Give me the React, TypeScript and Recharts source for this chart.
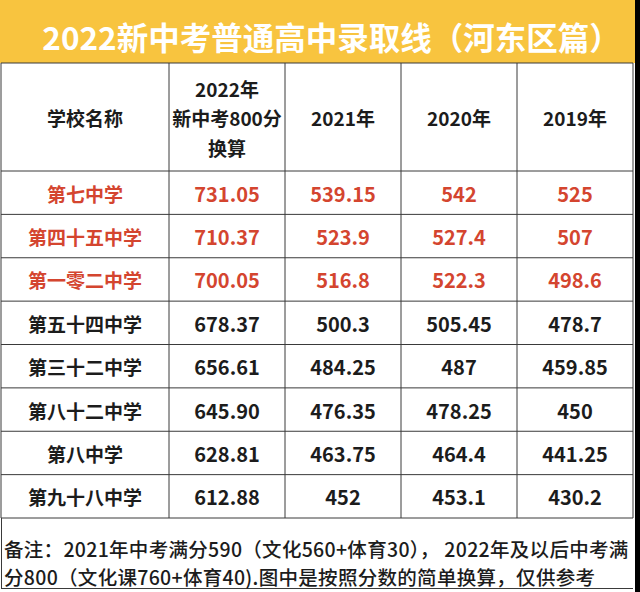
import React from "react";
import { ReferenceLine, Scatter, ScatterChart, XAxis, YAxis } from "recharts";

const title = "2022新中考普通高中录取线（河东区篇）";
const nameHeader = "学校名称";
const yearHeaders = ["2022年\n新中考800分\n换算", "2021年", "2020年", "2019年"];
const schools = [
  "第七中学",
  "第四十五中学",
  "第一零二中学",
  "第五十四中学",
  "第三十二中学",
  "第八十二中学",
  "第八中学",
  "第九十八中学",
];
const score2022 = [731.05, 710.37, 700.05, 678.37, 656.61, 645.9, 628.81, 612.88];
const score2021 = [539.15, 523.9, 516.8, 500.3, 484.25, 476.35, 463.75, 452];
const score2020 = [542, 527.4, 522.3, 505.45, 487, 478.25, 464.4, 453.1];
const score2019 = [525, 507, 498.6, 478.7, 459.85, 450, 441.25, 430.2];
const noteLines = [
  "备注：2021年中考满分590（文化560+体育30）， 2022年及以后中考满",
  "分800（文化课760+体育40).图中是按照分数的简单换算，仅供参考",
];
const highlightCount = 3;

const FONT = '"Noto Sans CJK SC", "Noto Sans", sans-serif';
const RED = "#d4452f";
const INK = "#1c1c1c";
const LINE = "#3a3a3a";

type Cell = { c: string; r: string; label: string; red?: boolean };

const headNameCells: Cell[] = [{ c: nameHeader, r: "head", label: nameHeader }];
const headYearCells: Cell[] = yearHeaders.map((h) => ({ c: h, r: "head", label: h }));
const nameCells: Cell[] = schools.map((s, i) => ({ c: nameHeader, r: s, label: s, red: i < highlightCount }));
const valueCells: Cell[] = schools.flatMap((s, i) => {
  const red = i < highlightCount;
  return [
    { c: yearHeaders[0], r: s, label: score2022[i].toFixed(2), red },
    { c: yearHeaders[1], r: s, label: String(score2021[i]), red },
    { c: yearHeaders[2], r: s, label: String(score2020[i]), red },
    { c: yearHeaders[3], r: s, label: String(score2019[i]), red },
  ];
});

const textShape = (size: number) => (props: any) => {
  const { cx, cy, payload } = props;
  const lines = String(payload.label).split("\n");
  const lh = 29.5;
  return (
    <text
      x={cx}
      y={cy - ((lines.length - 1) * lh) / 2}
      textAnchor="middle"
      dominantBaseline="central"
      fill={payload.red ? RED : INK}
      fontSize={size}
      fontWeight={700}
      fontFamily={FONT}
    >
      {lines.map((l, i) => (
        <tspan key={i} x={cx} dy={i === 0 ? 0 : lh} dominantBaseline="central">
          {l}
        </tspan>
      ))}
    </text>
  );
};

export default function App() {
  const lastYear = yearHeaders[yearHeaders.length - 1];
  const lastSchool = schools[schools.length - 1];
  return (
    <div style={{ position: "absolute", left: 0, top: 0, width: 640, height: 592, background: "#fff", fontFamily: FONT }}>
      <div
        style={{
          position: "absolute",
          left: 0,
          top: 0,
          width: 635,
          height: 63,
          background: "#f8c43f",
          color: "#fff",
          fontSize: 31.5,
          fontWeight: 700,
          textAlign: "center",
          lineHeight: "72px",
          whiteSpace: "nowrap",
          paddingLeft: 28,
          boxSizing: "border-box",
        }}
      >
        {title}
      </div>

      <div style={{ position: "absolute", left: 0, top: 0 }}>
        <ScatterChart width={640} height={592} margin={{ top: 63, right: 7, bottom: 74, left: 1 }}>
          <XAxis xAxisId="name" dataKey="c" type="category" allowDuplicatedCategory={false} hide padding={{ left: 0, right: 464 }} />
          <XAxis xAxisId="score" dataKey="c" type="category" allowDuplicatedCategory={false} hide padding={{ left: 168, right: 0 }} />
          <YAxis yAxisId="head" dataKey="r" type="category" allowDuplicatedCategory={false} hide padding={{ top: 0, bottom: 347 }} />
          <YAxis yAxisId="body" dataKey="r" type="category" allowDuplicatedCategory={false} hide reversed padding={{ top: 108, bottom: 0 }} />

          <ReferenceLine xAxisId="name" yAxisId="body" x={nameHeader} position="start" stroke={LINE} ifOverflow="visible" />
          {yearHeaders.map((h) => (
            <ReferenceLine key={h} xAxisId="score" yAxisId="body" x={h} position="start" stroke={LINE} ifOverflow="visible" />
          ))}
          <ReferenceLine xAxisId="score" yAxisId="body" x={lastYear} position="end" stroke={LINE} ifOverflow="visible" />

          <ReferenceLine xAxisId="score" yAxisId="head" y="head" position="start" stroke={LINE} ifOverflow="visible" />
          {schools.map((s) => (
            <ReferenceLine key={s} xAxisId="score" yAxisId="body" y={s} position="start" stroke={LINE} ifOverflow="visible" />
          ))}
          <ReferenceLine xAxisId="score" yAxisId="body" y={lastSchool} position="end" stroke={LINE} ifOverflow="visible" />

          <Scatter xAxisId="name" yAxisId="head" data={headNameCells} shape={textShape(19)} isAnimationActive={false} />
          <Scatter xAxisId="score" yAxisId="head" data={headYearCells} shape={textShape(19)} isAnimationActive={false} />
          <Scatter xAxisId="name" yAxisId="body" data={nameCells} shape={textShape(19)} isAnimationActive={false} />
          <Scatter xAxisId="score" yAxisId="body" data={valueCells} shape={textShape(20)} isAnimationActive={false} />
        </ScatterChart>
      </div>

      <div
        style={{
          position: "absolute",
          left: 1,
          top: 518,
          width: 632,
          height: 71,
          borderLeft: `1px solid ${LINE}`,
          borderBottom: `1px solid ${LINE}`,
          boxSizing: "border-box",
        }}
      />
      {noteLines.map((l, i) => (
        <div
          key={i}
          style={{
            position: "absolute",
            left: 4,
            top: 535 + i * 28,
            fontSize: 19.5,
            letterSpacing: 0.3,
            lineHeight: "28px",
            color: INK,
            whiteSpace: "nowrap",
            fontWeight: 500,
          }}
        >
          {l}
        </div>
      ))}
      <div style={{ position: "absolute", left: 635, top: 0, width: 5, height: 592, background: "#000" }} />
    </div>
  );
}
